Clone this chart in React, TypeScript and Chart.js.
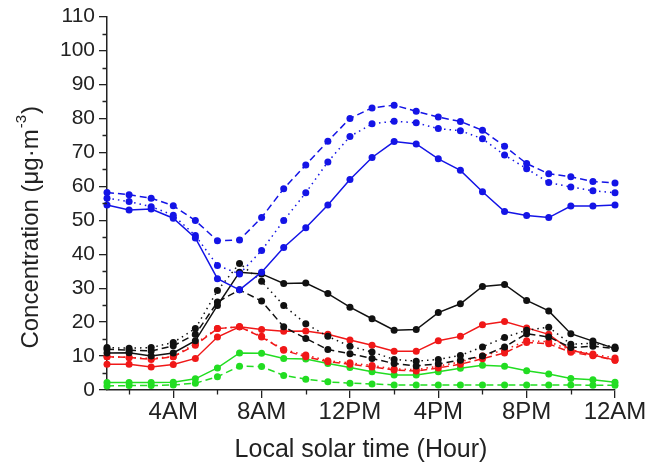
import React, { useEffect, useRef } from "react";
import { Chart, registerables } from "chart.js";

Chart.register(...registerables);

const hours = [1, 2, 3, 4, 5, 6, 7, 8, 9, 10, 11, 12, 13, 14, 15, 16, 17, 18, 19, 20, 21, 22, 23, 24];

const blueSolid = [54.5, 53.0, 53.3, 50.6, 44.8, 32.8, 29.5, 34.7, 42.0, 47.8, 54.5, 62.0, 68.5, 73.2, 72.5, 68.1, 64.7, 58.4, 52.6, 51.4, 50.8, 54.2, 54.2, 54.5];
const blueDashed = [58.2, 57.5, 56.5, 54.3, 49.9, 44.0, 44.2, 50.8, 59.3, 66.3, 73.3, 80.0, 83.1, 83.9, 82.1, 80.4, 79.1, 76.5, 71.8, 66.7, 63.7, 62.8, 61.4, 61.0];
const blueDotted = [56.5, 55.5, 54.0, 51.5, 45.5, 36.7, 34.2, 41.1, 49.9, 58.1, 67.2, 74.7, 78.4, 79.2, 78.7, 77.0, 76.4, 74.0, 69.2, 65.2, 61.1, 59.8, 58.7, 58.1];

const blackSolid = [10.9, 11.0, 10.0, 10.9, 14.5, 24.9, 34.7, 34.2, 31.4, 31.5, 28.4, 24.4, 21.0, 17.6, 17.8, 22.8, 25.4, 30.5, 31.1, 26.4, 23.3, 16.6, 14.4, 12.2];
const blackDotted = [12.5, 12.3, 12.5, 14.0, 18.1, 29.3, 37.3, 32.0, 24.9, 19.5, 15.8, 12.9, 11.2, 9.0, 8.5, 9.0, 10.2, 12.7, 15.5, 17.6, 18.5, 13.5, 13.8, 12.7];
const blackDashed = [12.0, 11.7, 11.5, 13.0, 16.4, 25.9, 29.5, 26.2, 18.6, 15.2, 11.9, 10.7, 9.3, 7.8, 7.1, 7.7, 8.8, 10.0, 12.7, 16.6, 15.6, 12.5, 12.9, 12.2];

const redSolid = [7.6, 7.6, 6.8, 7.5, 9.3, 15.6, 18.6, 17.8, 17.3, 17.4, 16.4, 14.7, 13.2, 11.4, 11.4, 14.5, 15.8, 19.2, 20.2, 18.3, 16.4, 11.7, 10.3, 8.8];
const redDotted = [9.8, 9.6, 9.3, 9.8, 13.7, 18.1, 18.6, 15.8, 11.9, 10.3, 8.6, 8.0, 7.2, 6.2, 6.0, 7.0, 8.3, 10.0, 11.8, 14.5, 14.2, 11.8, 10.6, 9.4];
const redDashed = [9.8, 9.6, 9.0, 9.8, 13.2, 18.1, 18.6, 15.6, 11.7, 9.8, 8.3, 7.6, 6.8, 5.9, 5.6, 6.5, 7.6, 9.2, 10.9, 14.0, 13.6, 11.1, 10.1, 8.8];

const greenSolid = [2.2, 2.2, 2.2, 2.3, 3.3, 6.5, 10.9, 10.8, 9.3, 9.1, 7.8, 6.6, 5.4, 4.4, 4.4, 5.4, 6.4, 7.3, 7.0, 5.7, 4.7, 3.4, 3.0, 2.3];
const greenDashed = [1.2, 1.3, 1.3, 1.5, 2.0, 3.9, 7.0, 6.9, 4.3, 3.2, 2.4, 2.0, 1.8, 1.5, 1.5, 1.5, 1.5, 1.5, 1.5, 1.5, 1.5, 1.5, 1.4, 1.4];

const xTickValues = [4, 8, 12, 16, 20, 24];
const xTickLabels = ["4AM", "8AM", "12PM", "4PM", "8PM", "12AM"];
const xMinorValues = [2, 6, 10, 14, 18, 22];
const yMinorValues = [5, 15, 25, 35, 45, 55, 65, 75, 85, 95, 105];

const xTitle = "Local solar time (Hour)";
const yTitleMain = "Concentration (μg·m";
const yTitleSup = "-3";
const yTitleEnd = ")";

const BLUE = "#1414e6";
const BLACK = "#111111";
const RED = "#f01818";
const GREEN = "#22dd22";
const AXIS = "#222222";
const FONT = "'Liberation Sans', Arial, sans-serif";

const DASHED = [7, 4];
const DOTTED = [1.5, 4];

function ds(label: string, values: number[], color: string, dash: number[]) {
  return {
    label,
    data: values.map((v, i) => ({ x: hours[i], y: v })),
    borderColor: color,
    backgroundColor: color,
    borderWidth: 1.5,
    borderDash: dash,
    pointRadius: 3.5,
    pointBorderWidth: 0,
    pointBackgroundColor: color,
    tension: 0,
    clip: false as any,
  };
}

const minorTicks = {
  id: "minorTicks",
  afterDraw(chart: any) {
    const { ctx, chartArea } = chart;
    const xs = chart.scales.x;
    const ys = chart.scales.y;
    ctx.save();
    ctx.strokeStyle = AXIS;
    ctx.lineWidth = 1.3;
    ctx.beginPath();
    for (const v of yMinorValues) {
      const p = Math.round(ys.getPixelForValue(v)) + 0.5;
      ctx.moveTo(chartArea.left - 4.5, p);
      ctx.lineTo(chartArea.left, p);
    }
    for (const v of xMinorValues) {
      const p = Math.round(xs.getPixelForValue(v)) + 0.5;
      ctx.moveTo(p, chartArea.bottom);
      ctx.lineTo(p, chartArea.bottom + 4.5);
    }
    ctx.stroke();
    ctx.restore();
  },
};

const yTitlePlugin = {
  id: "yTitle",
  afterDraw(chart: any) {
    const { ctx, chartArea } = chart;
    const mainFont = `24px ${FONT}`;
    const supFont = `15px ${FONT}`;
    ctx.save();
    ctx.fillStyle = AXIS;
    ctx.textBaseline = "middle";
    ctx.textAlign = "left";
    ctx.font = mainFont;
    const w1 = ctx.measureText(yTitleMain).width;
    const w3 = ctx.measureText(yTitleEnd).width;
    ctx.font = supFont;
    const w2 = ctx.measureText(yTitleSup).width;
    const total = w1 + w2 + w3 + 2;
    const cy = (chartArea.top + chartArea.bottom) / 2 + 24;
    ctx.translate(31, cy);
    ctx.rotate(-Math.PI / 2);
    let x = -total / 2;
    ctx.font = mainFont;
    ctx.fillText(yTitleMain, x, 0);
    x += w1 + 1;
    ctx.font = supFont;
    ctx.fillText(yTitleSup, x, -9);
    x += w2 + 1;
    ctx.font = mainFont;
    ctx.fillText(yTitleEnd, x, 0);
    ctx.restore();
  },
};

export default function App() {
  const ref = useRef<HTMLCanvasElement>(null);
  useEffect(() => {
    if (!ref.current) return;
    const chart = new Chart(ref.current, {
      type: "line",
      data: {
        datasets: [
          ds("Blue solid", blueSolid, BLUE, []),
          ds("Blue dashed", blueDashed, BLUE, DASHED),
          ds("Blue dotted", blueDotted, BLUE, DOTTED),
          ds("Black solid", blackSolid, BLACK, []),
          ds("Black dashed", blackDashed, BLACK, DASHED),
          ds("Black dotted", blackDotted, BLACK, DOTTED),
          ds("Red solid", redSolid, RED, []),
          ds("Red dashed", redDashed, RED, DASHED),
          ds("Red dotted", redDotted, RED, DOTTED),
          ds("Green solid", greenSolid, GREEN, []),
          ds("Green dashed", greenDashed, GREEN, DASHED),
        ] as any,
      },
      options: {
        animation: false,
        responsive: false,
        maintainAspectRatio: false,
        layout: { padding: { top: 15, right: 32, left: 0, bottom: 0 } },
        plugins: { legend: { display: false }, tooltip: { enabled: false } },
        scales: {
          x: {
            type: "linear",
            min: 1,
            max: 24,
            afterBuildTicks: (scale: any) => {
              scale.ticks = xTickValues.map((v) => ({ value: v }));
            },
            afterFit: (scale: any) => {
              scale.height = 81;
            },
            ticks: {
              autoSkip: false,
              maxRotation: 0,
              color: AXIS,
              font: { family: FONT, size: 24 },
              padding: 0,
              callback: (v: any) => {
                const i = xTickValues.indexOf(Number(v));
                return i >= 0 ? xTickLabels[i] : "";
              },
            },
            grid: { drawOnChartArea: false, tickLength: 8, color: AXIS, lineWidth: 1.3 },
            border: { display: true, color: AXIS, width: 1.5 },
            title: {
              display: true,
              text: xTitle,
              color: AXIS,
              font: { family: FONT, size: 25 },
              padding: { top: 6, bottom: 6 },
            },
          },
          y: {
            type: "linear",
            min: 0,
            max: 110,
            afterFit: (scale: any) => {
              scale.width = 107;
            },
            ticks: {
              stepSize: 10,
              color: AXIS,
              font: { family: FONT, size: 21 },
              padding: 4,
            },
            grid: { drawOnChartArea: false, tickLength: 8, color: AXIS, lineWidth: 1.3 },
            border: { display: true, color: AXIS, width: 1.5 },
            title: { display: false },
          },
        },
      } as any,
      plugins: [minorTicks, yTitlePlugin],
    });
    return () => chart.destroy();
  }, []);
  return (
    <div style={{ position: "fixed", left: 0, top: 0, width: 647, height: 471, background: "#fff" }}>
      <canvas ref={ref} width={647} height={471} style={{ display: "block" }} />
    </div>
  );
}
